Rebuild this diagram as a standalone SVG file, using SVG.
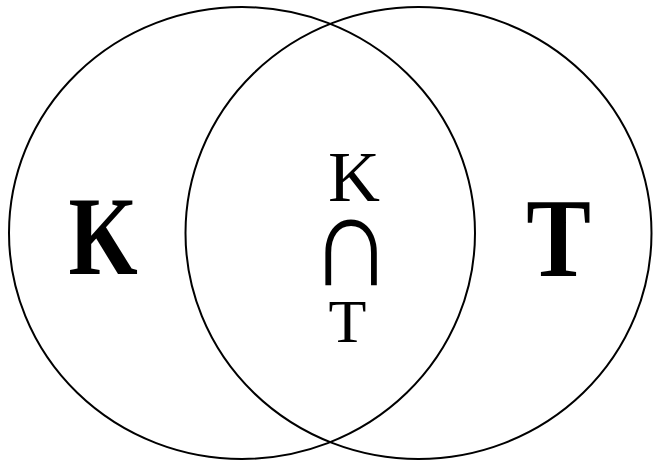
<svg xmlns="http://www.w3.org/2000/svg" width="654" height="463" viewBox="0 0 654 463">
<style>
.set{fill:none;stroke:#000;stroke-width:2}
.lbl{font-family:"Liberation Serif","Times New Roman",serif;fill:#000;text-anchor:middle}
.big{font-weight:bold}
</style>
<rect width="654" height="463" fill="#fff"/>
<g id="setK">
<ellipse class="set" cx="242" cy="233" rx="233" ry="226"/>
<text class="lbl big" font-size="89" transform="translate(103,274) scale(1,1.25)">K</text>
</g>
<g id="setT">
<ellipse class="set" cx="418.5" cy="233" rx="233" ry="226"/>
<text class="lbl big" font-size="97" transform="translate(558.5,276) scale(1,1.15)">T</text>
</g>
<g id="intersection">
<text class="lbl" font-size="72" x="354" y="201">K</text>
<text class="lbl" font-size="115" transform="translate(351,285) scale(1,1.13)">∩</text>
<text class="lbl" font-size="62" x="347.5" y="342">T</text>
</g>
</svg>
